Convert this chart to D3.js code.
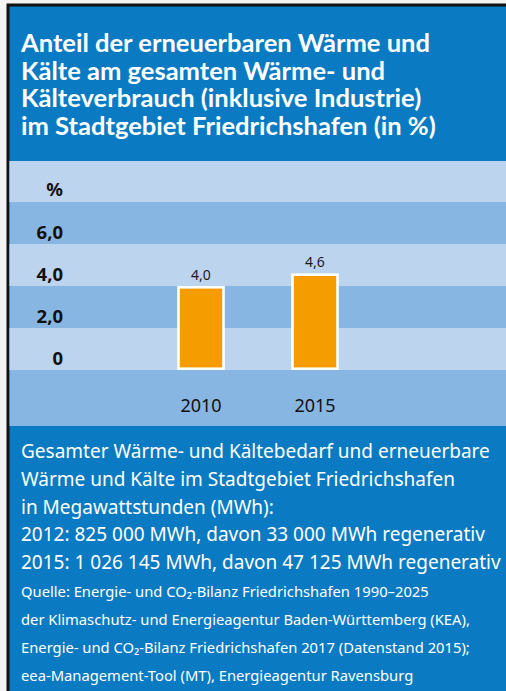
<!DOCTYPE html>
<html>
<head>
<meta charset="utf-8">
<script src="https://cdn.jsdelivr.net/npm/d3@7"></script>
<style>
  body { margin: 0; background: #f4f4f4; }
  svg { display: block; font-family: "Noto Sans", "Open Sans", sans-serif; }
</style>
</head>
<body>
<svg id="chart" width="506" height="691"></svg>
<script>
// data
const years = ["2010", "2015"];
const shares = [4.0, 4.6];
const tickValues = [0, 2, 4, 6];
const tickLabels = ["0", "2,0", "4,0", "6,0"];
const unitLabel = "%";

const titleLines = [
  "Anteil der erneuerbaren Wärme und",
  "Kälte am gesamten Wärme- und",
  "Kälteverbrauch (inklusive Industrie)",
  "im Stadtgebiet Friedrichshafen (in %)"
];
const noteLines = [
  "Gesamter Wärme- und Kältebedarf und erneuerbare",
  "Wärme und Kälte im Stadtgebiet Friedrichshafen",
  "in Megawattstunden (MWh):",
  "2012: 825 000 MWh, davon 33 000 MWh regenerativ",
  "2015: 1 026 145 MWh, davon 47 125 MWh regenerativ"
];
const sourceLines = [
  "Quelle: Energie- und CO₂-Bilanz Friedrichshafen 1990–2025",
  "der Klimaschutz- und Energieagentur Baden-Württemberg (KEA),",
  "Energie- und CO₂-Bilanz Friedrichshafen 2017 (Datenstand 2015);",
  "eea-Management-Tool (MT), Energieagentur Ravensburg"
];

const blue = "#0a7bc2";
const light = "#bdd4ee";
const dark = "#88b6e2";
const orange = "#f59c00";

const svg = d3.select("#chart");

// frame
svg.append("rect").attr("x", 8).attr("y", 5).attr("width", 510).attr("height", 700)
  .attr("fill", blue).attr("stroke", "#111").attr("stroke-width", 3);

// chart area
const areaTop = 161, areaBottom = 426;
svg.append("rect").attr("x", 9.5).attr("y", areaTop).attr("width", 497).attr("height", areaBottom - areaTop)
  .attr("fill", dark);

const y = d3.scaleLinear().domain([0, 10]).range([370, 160]);
const x = d3.scalePoint().domain(years).range([201, 315]);

// light bands
svg.append("g").selectAll("rect")
  .data([[0, 2], [4, 6], [8, 10]])
  .join("rect")
  .attr("x", 9.5)
  .attr("width", 497)
  .attr("y", d => Math.max(y(d[1]), areaTop))
  .attr("height", d => y(d[0]) - Math.max(y(d[1]), areaTop))
  .attr("fill", light);

// y labels
const yLab = svg.append("g");
yLab.selectAll("text")
  .data(tickValues)
  .join("text")
  .attr("x", 63)
  .attr("y", d => y(d) - 11)
  .attr("dy", "0.35em")
  .attr("text-anchor", "end")
  .attr("font-size", 18.5)
  .attr("font-weight", "bold")
  .attr("fill", "#111")
  .text((d, i) => tickLabels[i]);
yLab.append("text")
  .attr("x", 63).attr("y", y(8) - 12).attr("dy", "0.35em")
  .attr("text-anchor", "end").attr("font-size", 18.5).attr("font-weight", "bold")
  .attr("fill", "#111").text(unitLabel);

// bars
const bw = 45;
svg.append("g").selectAll("rect")
  .data(shares)
  .join("rect")
  .attr("x", (d, i) => x(years[i]) - bw / 2)
  .attr("y", d => y(d) + 1.3)
  .attr("width", bw)
  .attr("height", d => y(0) - y(d) - 2.6)
  .attr("fill", orange)
  .attr("stroke", "#fff")
  .attr("stroke-width", 2.6);

svg.append("g").selectAll("text")
  .data(shares)
  .join("text")
  .attr("x", (d, i) => x(years[i]))
  .attr("y", d => y(d) - 11)
  .attr("dy", "0.35em")
  .attr("text-anchor", "middle")
  .attr("font-size", 14)
  .attr("fill", "#1a1a1a")
  .text(d => d3.format(".1f")(d).replace(".", ","));

// x labels
svg.append("g").selectAll("text")
  .data(years)
  .join("text")
  .attr("x", d => x(d))
  .attr("y", 406)
  .attr("dy", "0.35em")
  .attr("text-anchor", "middle")
  .attr("font-size", 18)
  .attr("fill", "#111")
  .text(d => d);

// multi-line text blocks, font size fitted so the widest line spans the given width
function block(lines, y0, step, width, weight, family) {
  const t = svg.append("text")
    .attr("fill", "#fff")
    .attr("font-weight", weight)
    .attr("font-size", 20);
  if (family) t.attr("font-family", family);
  const spans = t.selectAll("tspan")
    .data(lines)
    .join("tspan")
    .attr("x", 21)
    .attr("y", (d, i) => y0 + i * step)
    .text(d => d);
  const w = d3.max(spans.nodes(), n => n.getComputedTextLength());
  t.attr("font-size", 20 * width / w);
}

block(titleLines, 52, 27.7, 415, "bold", "Lato");
block(noteLines, 458, 27.8, 480, "normal");
block(sourceLines, 597, 28, 449, "normal");
</script>
</body>
</html>
